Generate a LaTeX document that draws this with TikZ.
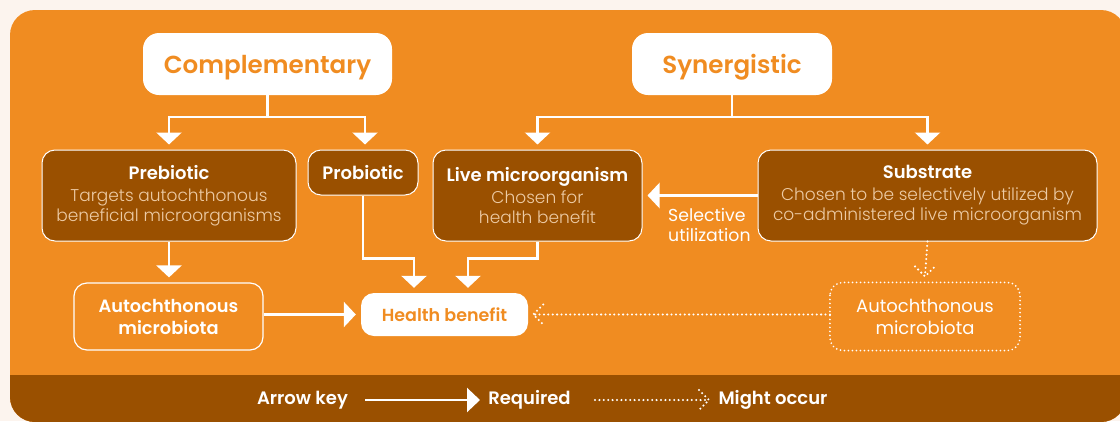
\documentclass[tikz,border=0pt]{standalone}
\usepackage{fontspec}
\setmainfont{Poppins}
\newfontfamily\lightfont{Poppins Light}
\newfontfamily\semifont{Poppins SemiBold}
\usetikzlibrary{arrows.meta,calc}
\definecolor{panel}{HTML}{F08C21}
\definecolor{dbrown}{HTML}{9A5000}
\definecolor{cream}{HTML}{FCF4EE}
\definecolor{tanc}{HTML}{EDCBA5}
\newcommand\boxtitle[1]{{\color{white}\semifont\fontsize{18}{20}\selectfont #1}}
\newcommand\boxbody[1]{{\color{tanc}\lightfont\fontsize{17}{20}\selectfont #1}}
\newcommand\headtext[1]{\raisebox{-9.5pt}[0pt][0pt]{#1}}
\begin{document}
\begin{tikzpicture}[x=1pt,y=-1pt,
  brownbox/.style={draw=white, line width=1pt, fill=dbrown, rounded corners=13pt, align=center, inner sep=0pt, font=\fontsize{17}{20}\selectfont},
  headbox/.style={fill=white, rounded corners=16pt, text=panel, font=\semifont\fontsize{24.6}{30}\selectfont, inner sep=0pt, minimum height=62pt},
  autobox/.style={draw=white, line width=1.2pt, rounded corners=13pt, align=center, inner sep=0pt, text=white, minimum width=189pt, minimum height=67pt},
  hbbox/.style={fill=white, rounded corners=13pt, inner sep=0pt, text=panel, font=\semifont\fontsize{17.5}{20}\selectfont, minimum width=167pt, minimum height=43pt},
  req/.style={draw=white, line width=2.5pt, -{Triangle[width=25pt,length=12pt]}, shorten >=5pt},
  mo/.style={draw=white, line width=2.3pt, line cap=round, dash pattern=on 0pt off 4.4pt},
  keytext/.style={text=white, font=\semifont\fontsize{18}{20}\selectfont, inner sep=0pt}
]
\useasboundingbox (0,0) rectangle (1120,421);
\fill[cream] (0,0) rectangle (1120,421);
\fill[panel, rounded corners=25pt] (10,10) rectangle (1126,422);
\begin{scope}
  \clip[rounded corners=25pt] (10,10) rectangle (1126,422);
  \fill[dbrown] (0,375) rectangle (1130,430);
\end{scope}

% headers
\node[headbox, minimum width=249pt] (comp) at (267.5,64) {\headtext{Complementary}};
\node[headbox, minimum width=200pt] (syn) at (732,64) {\headtext{Synergistic}};

% brown boxes
\node[brownbox, minimum width=254pt, minimum height=91pt] (pre) at (169,195.5)
  {\boxtitle{Prebiotic}\\[2pt]\boxbody{Targets autochthonous}\\\boxbody{beneficial microorganisms}};
\node[brownbox, minimum width=110pt, minimum height=45pt] (pro) at (363,172.5)
  {\boxtitle{Probiotic}};
\node[brownbox, minimum width=209pt, minimum height=91pt] (live) at (537.5,195.5)
  {\boxtitle{Live microorganism}\\[2pt]\boxbody{Chosen for}\\\boxbody{health benefit}};
\node[brownbox, minimum width=339pt, minimum height=91pt] (sub) at (927.5,195.5)
  {\boxtitle{Substrate}\\[2pt]\boxbody{Chosen to be selectively utilized by}\\\boxbody{co-administered live microorganism}};

% lower row
\node[autobox, font=\semifont\fontsize{17.8}{22}\selectfont] (aul) at (168.5,316.5) {Autochthonous\\microbiota};
\node[hbbox] (hb) at (444.5,314.5) {Health benefit};
\node[autobox, draw=none, font=\fontsize{18}{22}\selectfont] (aur) at (925,316.5) {Autochthonous\\microbiota};
\draw[white, line width=1.9pt, line cap=round, dash pattern=on 0pt off 4pt, rounded corners=13pt]
  (aur.north west) rectangle (aur.south east);

\node[anchor=west, align=left, text=white, font=\fontsize{17.3}{20}\selectfont, inner sep=0pt] (sel) at (668,225) {Selective\\utilization};

% connectors
\draw[req] (comp.south) -- ++(0,22) -| (pre.north);
\draw[req] (comp.south) -- ++(0,22) -| ([xshift=2pt]pro.north);
\draw[req] (syn.south) -- ++(0,22) -| (live.north);
\draw[req] (syn.south) -- ++(0,22) -| (sub.north);
\draw[req] (pre.south) -- (pre.south |- aul.north);
\draw[req] (pro.south) -- ++(0,63) -| ([xshift=-30.5pt]hb.north);
\draw[req] (live.south) -- ++(0,17) -| ([xshift=23.5pt]hb.north);
\draw[req] (aul.east |- hb.west) -- (hb.west);
\draw[req] (sub.west) -- (sub.west -| live.east);

% dotted
\draw[mo] (sub.south) -- ($(aur.north)+(0,-6)$);
\draw[mo] ($(aur.north)+(-10,-16)$) -- ($(aur.north)+(0,-6)$) -- ($(aur.north)+(10,-16)$);
\draw[mo] (aur.west |- hb.east) -- ($(hb.east)+(5,0)$);
\draw[mo] ($(hb.east)+(15,-10)$) -- ($(hb.east)+(5,0)$) -- ($(hb.east)+(15,10)$);

% legend
\node[keytext] (kk) at (302.5,400) {Arrow key};
\node[keytext] (kr) at (529.5,400) {Required};
\node[keytext] (km) at (773,400) {Might occur};
\coordinate (k1) at (365,400);
\coordinate (k2) at (480,400);
\coordinate (k3) at (595,400);
\coordinate (k4) at (709,400);
\draw[white, line width=2.5pt, -{Triangle[width=24pt,length=13pt]}] (k1) -- (k2);
\draw[mo] (k3) -- (k4);
\draw[mo] ($(k4)+(-10,-10)$) -- (k4) -- ($(k4)+(-10,10)$);
\end{tikzpicture}
\end{document}
